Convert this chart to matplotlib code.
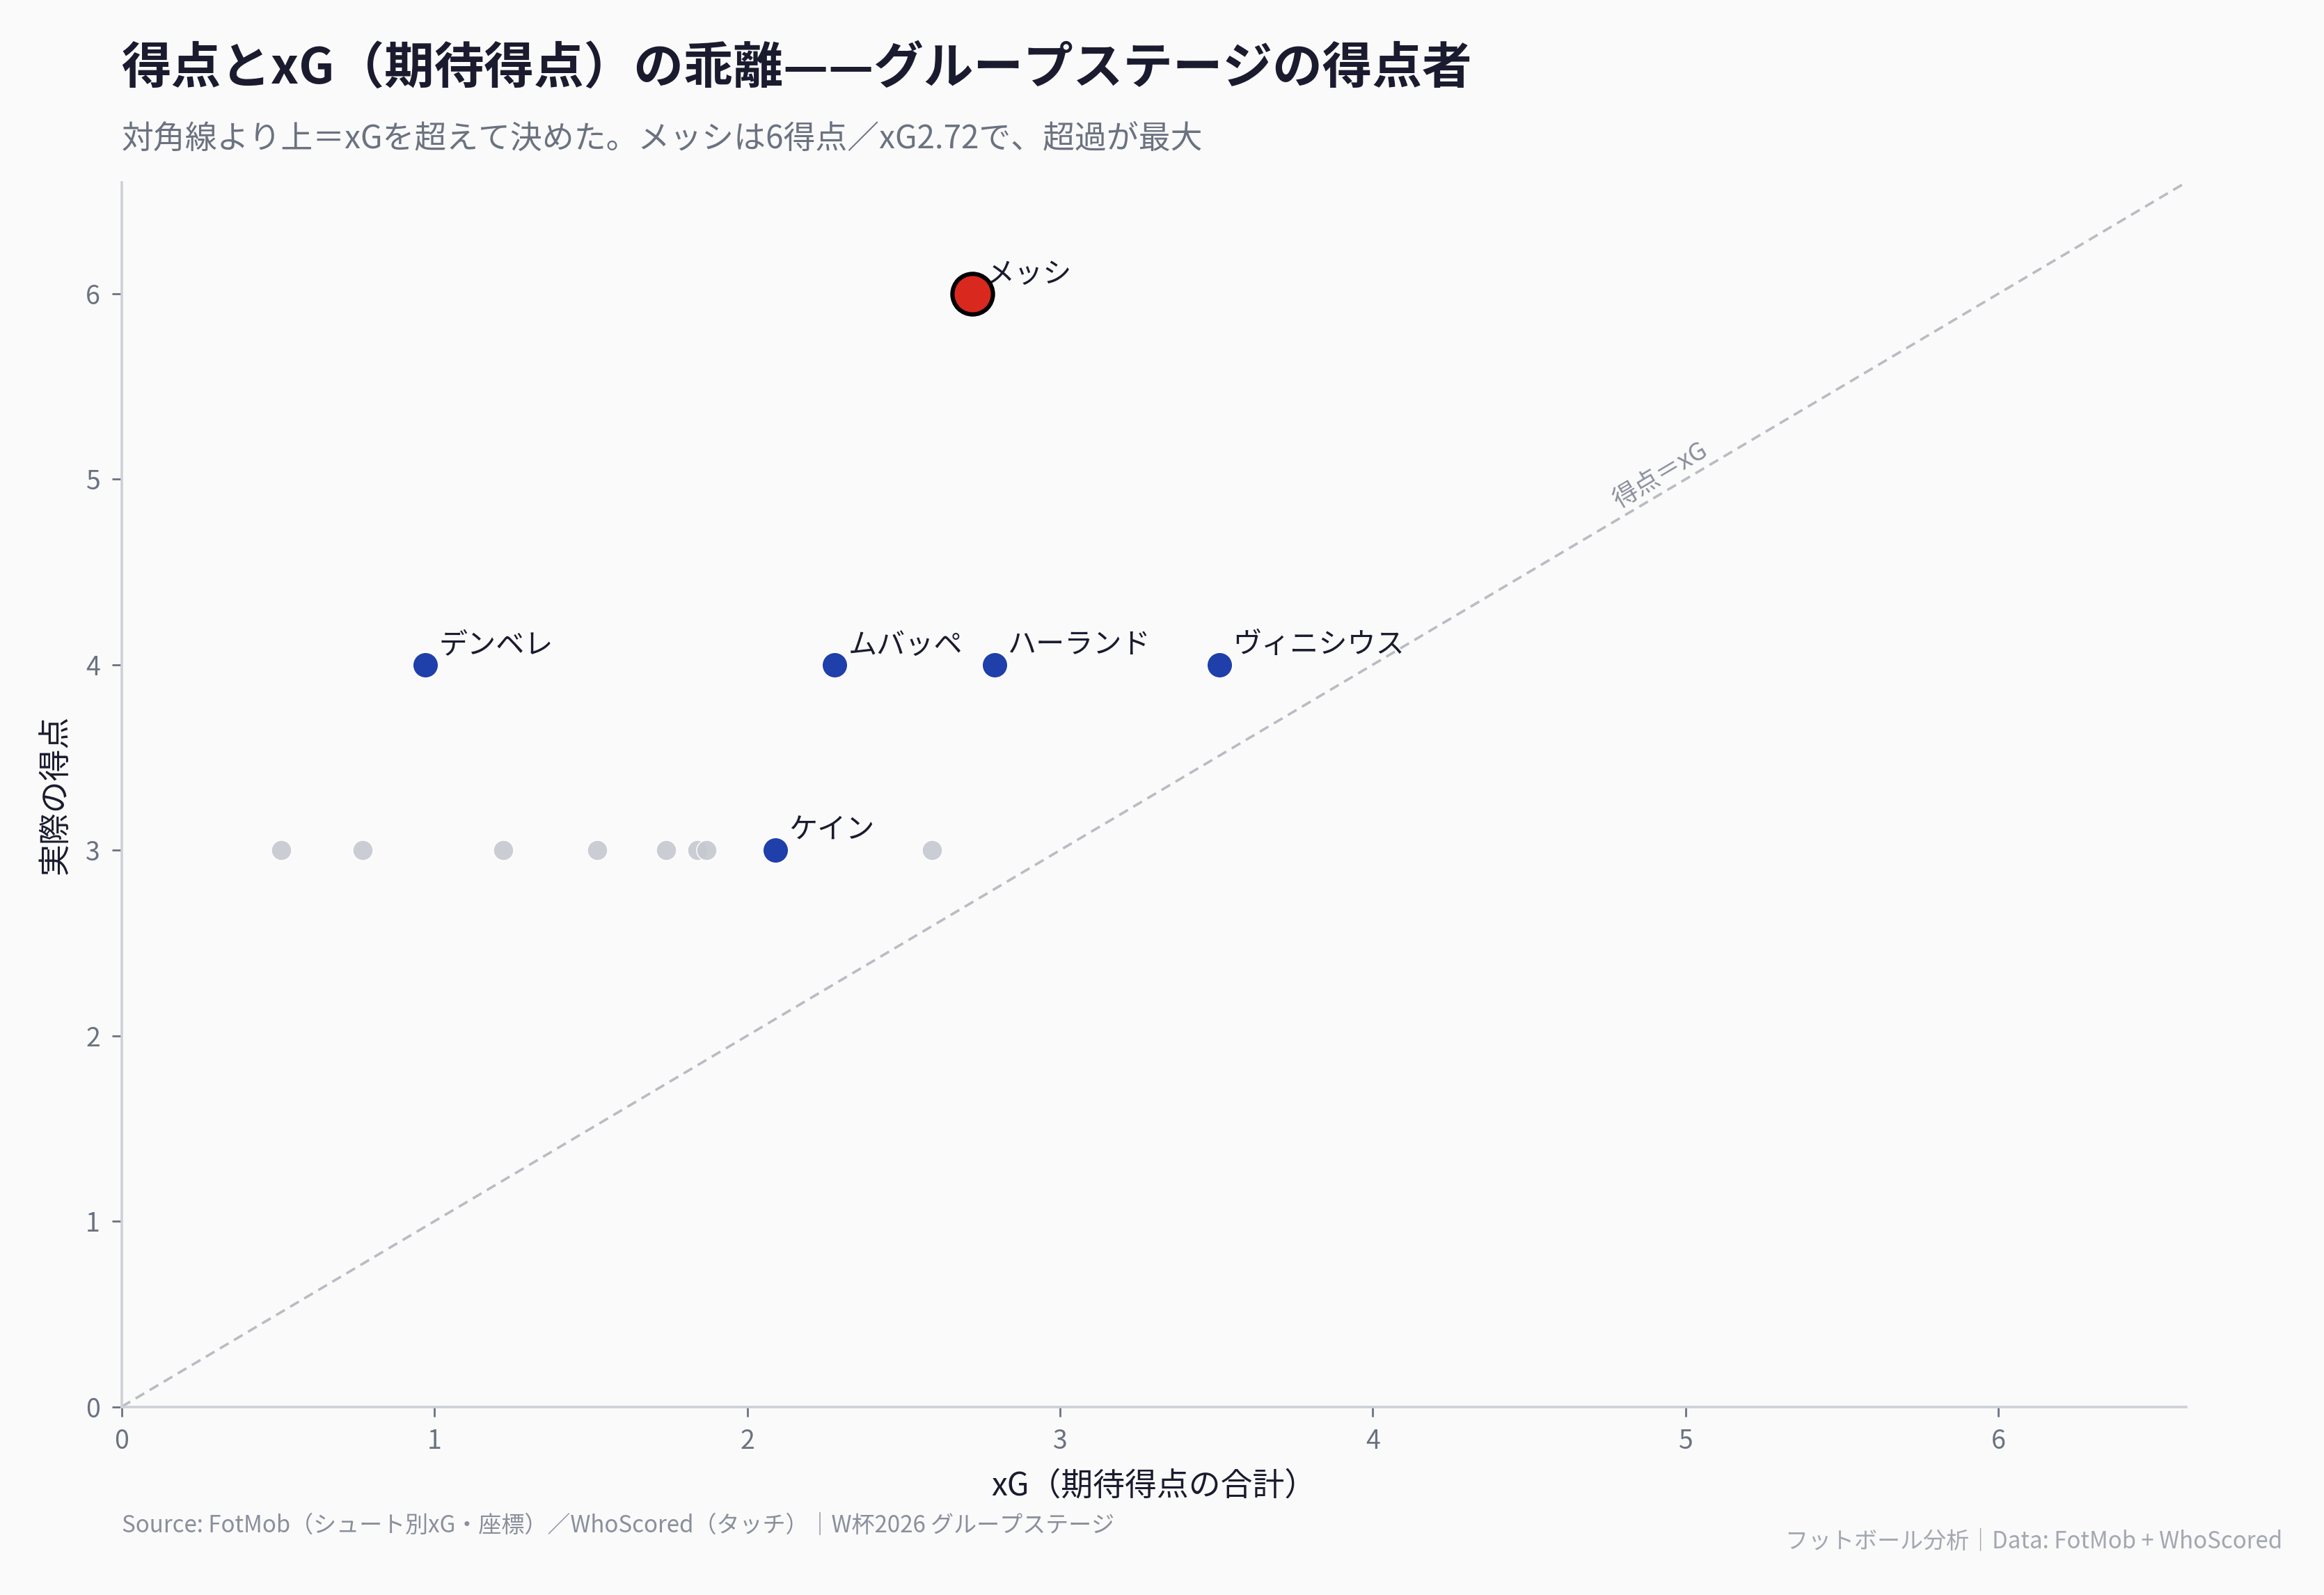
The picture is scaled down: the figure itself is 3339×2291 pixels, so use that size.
import matplotlib
matplotlib.use("Agg")
import matplotlib.pyplot as plt

plt.rcParams["font.family"] = ["Noto Sans CJK JP", "DejaVu Sans"]

# %% データ
# その他の得点者（3得点）
other_xg = [0.51, 0.77, 1.22, 1.52, 1.74, 1.84, 1.87, 2.59]
other_goals = [3, 3, 3, 3, 3, 3, 3, 3]

# 注目選手
names = ["デンベレ", "ムバッペ", "ハーランド", "ヴィニシウス", "ケイン"]
names_xg = [0.97, 2.28, 2.79, 3.51, 2.09]
names_goals = [4, 4, 4, 4, 3]

messi_name = "メッシ"
messi_xg = 2.72
messi_goals = 6

lim = 6.6

BG = "#fafafa"
DARK = "#1a1b2e"
GRAY = "#6b7280"

# %% 図
fig = plt.figure(figsize=(3339 / 200, 2291 / 200), dpi=200, facecolor=BG)
ax = fig.add_axes([0.0523, 0.118, 0.8884, 0.7677])
ax.set_facecolor(BG)

ax.plot([0, lim], [0, lim], ls="--", color="#b9bcc2", lw=1.3, zorder=1, dashes=(4, 2.5))
ax.text(4.92, 5.02, "得点＝xG", rotation=30.7, rotation_mode="anchor",
        ha="center", va="center", color="#8a8f9c", fontsize=13)

for n, x, y in zip(names + [messi_name], names_xg + [messi_xg], names_goals + [messi_goals]):
    ax.annotate(n, (x, y), xytext=(7, 10), textcoords="offset points",
                ha="left", va="center", fontsize=14.8, color=DARK,
                arrowprops=dict(arrowstyle="-", color="#9a9ea8", lw=0.7,
                                shrinkA=0, shrinkB=0, relpos=(0, 0.15)),
                zorder=1.5)

ax.scatter(other_xg, other_goals, s=110, color="#c5c8cf", alpha=0.9,
           edgecolors="white", linewidths=0.6, zorder=2)
ax.scatter(names_xg, names_goals, s=180, color="#1f3faa",
           edgecolors="white", linewidths=0.8, zorder=3)
ax.scatter([messi_xg], [messi_goals], s=440, color="#d9291e",
           edgecolors="black", linewidths=2.2, zorder=4)

ax.set_xlim(0, lim)
ax.set_ylim(0, lim)
ax.set_xticks(range(0, 7))
ax.set_yticks(range(0, 7))
ax.tick_params(colors=GRAY, labelsize=13.5, length=5, width=1, pad=6)
for sp in ["top", "right"]:
    ax.spines[sp].set_visible(False)
for sp in ["left", "bottom"]:
    ax.spines[sp].set_color("#cdd0d6")
    ax.spines[sp].set_linewidth(1.3)

ax.set_xlabel("xG（期待得点の合計）", fontsize=16.5, color=DARK, labelpad=7)
ax.set_ylabel("実際の得点", fontsize=16.5, color=DARK, labelpad=7)

fig.text(0.0523, 0.957, "得点とxG（期待得点）の乖離——グループステージの得点者",
         fontsize=25.8, fontweight="bold", color=DARK, ha="left", va="center")
fig.text(0.0523, 0.913, "対角線より上＝xGを超えて決めた。メッシは6得点／xG2.72で、超過が最大",
         fontsize=16.5, color=GRAY, ha="left", va="center")

fig.text(0.0523, 0.0435, "Source: FotMob（シュート別xG・座標）／WhoScored（タッチ）｜W杯2026 グループステージ",
         fontsize=11.9, color="#8a8f9c", ha="left", va="center")
fig.text(0.982, 0.0335, "フットボール分析｜Data: FotMob + WhoScored",
         fontsize=11.9, color="#a3a7b0", ha="right", va="center")

fig.savefig("out.png", dpi=200, facecolor=BG)
